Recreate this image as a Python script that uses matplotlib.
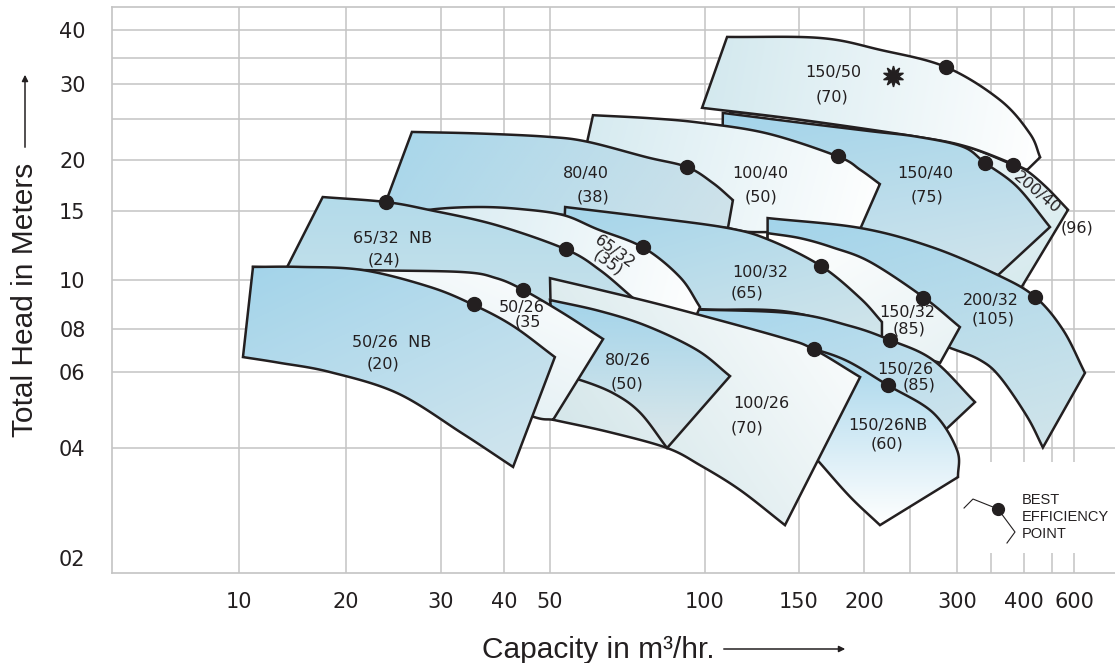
import numpy as np
import matplotlib
matplotlib.use("Agg")
import matplotlib.pyplot as plt
from matplotlib.patches import Polygon, Rectangle, FancyArrowPatch
from matplotlib.colors import to_rgb
from matplotlib.ticker import NullLocator

# ------------------------------------------------------------------ axes data
x_ticks = [10, 20, 30, 40, 50, 100, 150, 200, 300, 400, 600]
x_tick_labels = ["10", "20", "30", "40", "50", "100", "150", "200", "300", "400", "600"]
x_grid = [10, 20, 30, 40, 50, 100, 150, 200, 250, 300, 350, 400, 500, 600]
y_ticks = [2, 4, 6, 8, 10, 15, 20, 30, 40]
y_tick_labels = ["02", "04", "06", "08", "10", "15", "20", "30", "40"]
y_grid = [4, 6, 8, 10, 15, 20, 25, 30, 35, 40]

# ------------------------------------------------------------------ pump ranges
# top = largest impeller curve, bottom = smallest impeller curve (capacity m3/hr, head m)
q_top_200_40 = [111.4, 151, 257, 314, 383, 410, 480, 571]
h_top_200_40 = [26.0, 24.9, 22.7, 21.5, 19.45, 18.8, 17.1, 15.1]
q_bot_200_40 = [111.4, 151, 216, 292, 381]
h_bot_200_40 = [20.0, 15.9, 12.6, 10.6, 9.0]

q_top_150_50 = [110, 165, 216, 287, 363, 419, 455]
h_top_150_50 = [38.7, 38.5, 36.4, 33.2, 27.6, 23.1, 20.3]
q_bot_150_50 = [98.7, 151, 257, 314, 383, 410]
h_bot_150_50 = [26.5, 24.9, 22.7, 21.5, 19.55, 18.9]

q_top_150_40 = [108, 151, 206, 257, 308, 341, 389, 492]
h_top_150_40 = [25.8, 24.5, 23.4, 22.7, 21.5, 19.66, 17.2, 13.65]
q_bot_150_40 = [107.6, 131, 197, 273, 360]
h_bot_150_40 = [15.95, 14.05, 13.25, 11.9, 10.29]

q_top_100_40 = [60.6, 78.2, 97.8, 131, 178, 197, 216]
h_top_100_40 = [25.5, 25.1, 24.5, 23.1, 20.4, 18.9, 17.46]
q_bot_100_40 = [58.0, 78.2, 110.4, 131, 197]
h_bot_100_40 = [20.0, 15.5, 13.57, 13.25, 13.57]

q_top_80_40 = [26.5, 35.8, 49.3, 59.0, 77.1, 92.3, 103.5, 112.8]
h_top_80_40 = [23.3, 23.1, 22.7, 22.1, 20.3, 19.22, 17.56, 15.95]
q_bot_80_40 = [23.4, 28.6, 35.8, 53.5, 77.1, 110.4]
h_bot_80_40 = [15.08, 14.91, 14.91, 14.65, 14.23, 13.57]

q_top_200_32 = [131, 197, 273, 360, 437, 548, 648]
h_top_200_32 = [14.39, 13.57, 12.11, 10.29, 9.26, 7.95, 5.97]
q_bot_200_32 = [131, 151, 238, 292, 333, 363, 410, 465]
h_bot_200_32 = [12.6, 9.13, 7.95, 7.05, 6.5, 5.84, 4.73, 4.01]

q_top_150_32 = [131, 151, 174, 206, 263, 304]
h_top_150_32 = [13.17, 12.78, 12.11, 11.12, 9.26, 8.07]
q_bot_150_32 = [131, 151, 216, 281]
h_bot_150_32 = [9.13, 8.34, 7.18, 6.38]

q_top_100_32 = [53.5, 77.1, 110.4, 132.4, 165.3, 196.6, 218.2]
h_top_100_32 = [15.34, 14.48, 13.57, 12.63, 10.86, 9.21, 8.26]
q_bot_100_32 = [53.0, 74.8, 97.8, 144.3, 218.2]
h_bot_100_32 = [11.25, 9.13, 8.76, 8.64, 7.53]

q_top_65_32 = [25.2, 29.4, 35.8, 43.2, 53.0, 61.7, 75.8, 89.4, 97.8]
h_top_65_32 = [14.65, 15.17, 15.34, 15.17, 14.65, 13.49, 12.11, 10.17, 8.84]
q_bot_65_32 = [25.2, 35.8, 52.3, 68.4, 93.5]
h_bot_65_32 = [14.23, 12.63, 9.56, 8.34, 7.95]

q_top_65_32nb = [17.2, 23.7, 28.6, 38.6, 53.7, 62.5, 72.5]
h_top_65_32nb = [16.23, 15.78, 15.08, 13.81, 11.97, 10.6, 9.21]
q_bot_65_32nb = [13.3, 25.2, 39.2, 62.5]
h_bot_65_32nb = [10.29, 10.0, 9.56, 6.95]

q_top_150_26 = [89.4, 144.3, 188.1, 227, 273.3, 325.5]
h_top_150_26 = [8.76, 8.60, 8.11, 7.43, 6.50, 5.11]
q_bot_150_26 = [89.4, 121.4, 159.6, 188.1, 238, 284]
h_bot_150_26 = [8.26, 7.53, 6.50, 5.81, 5.16, 4.35]

q_top_150_26nb = [144.3, 159.6, 185.6, 224.6, 273.3, 300, 301.4]
h_top_150_26nb = [7.18, 7.0, 6.46, 5.59, 4.83, 3.95, 3.33]
q_bot_150_26nb = [138.2, 141.2, 150.7, 164.6, 188.1, 216.1]
h_bot_150_26nb = [6.5, 5.16, 4.17, 3.64, 2.94, 2.46]

q_top_100_26 = [50.0, 62.5, 85.5, 138.2, 159.6, 196.6]
h_top_100_26 = [10.11, 9.56, 8.84, 7.58, 7.0, 5.84]
q_bot_100_26 = [50.7, 65.4, 84.4, 97.8, 116.3, 141.2]
h_bot_100_26 = [4.65, 4.35, 4.0, 3.59, 3.07, 2.46]

q_top_80_26 = [50.0, 62.5, 77.1, 96.5, 111.4]
h_top_80_26 = [9.13, 8.68, 8.11, 6.95, 5.87]
q_bot_80_26 = [52.3, 57.2, 66.3, 74.8, 84.4]
h_bot_80_26 = [5.87, 5.75, 5.36, 4.83, 4.0]

q_top_50_26 = [10.95, 21.5, 33.0, 38.6, 43.9, 53.0, 63.4]
h_top_50_26 = [10.8, 10.6, 10.48, 10.11, 9.56, 8.6, 7.48]
q_bot_50_26 = [11.5, 14.8, 25.2, 35.8, 46.0, 50.7]
h_bot_50_26 = [7.95, 7.43, 6.08, 5.31, 4.73, 4.65]

q_top_50_26nb = [10.95, 14.8, 21.5, 28.6, 34.8, 41.8, 51.1]
h_top_50_26nb = [10.8, 10.8, 10.6, 9.69, 8.93, 8.11, 6.63]
q_bot_50_26nb = [10.26, 13.0, 18.0, 24.9, 33.0, 41.8]
h_bot_50_26nb = [6.63, 6.38, 6.0, 5.36, 4.33, 3.55]

# best efficiency points
bep_q = [23.7, 34.8, 43.9, 53.7, 75.8, 92.3, 178, 287, 341, 383, 165, 263, 437, 227, 160, 225]
bep_h = [15.78, 8.97, 9.56, 11.97, 12.11, 19.22, 20.4, 33.2, 19.66, 19.45, 10.86, 9.21, 9.26, 7.43, 7.0, 5.59]
star_q = [230]
star_h = [31.5]

# pump labels
label_text = ["150/50", "(70)", "150/40", "(75)", "100/40", "(50)", "200/40", "(96)",
              "100/32", "(65)", "150/32", "(85)", "200/32", "(105)", "150/26", "(85)",
              "150/26NB", "(60)", "100/26", "(70)", "80/26", "(50)", "50/26", "(35",
              "50/26  NB", "(20)", "65/32  NB", "(24)", "65/32", "(35)", "80/40", "(38)"]
label_q = [174.3, 173.7, 265, 267, 126.7, 127.3, 444, 613,
           126.7, 119.9, 246.4, 248.8, 350, 352.8, 244, 258.8,
           224.6, 223.7, 127.3, 119.9, 70.9, 70.6, 43.6, 44.9,
           24.3, 23.4, 24.4, 23.5, 66.9, 64.8, 58.7, 60.6]
label_h = [32.1, 28.0, 18.5, 16.23, 18.5, 16.23, 16.6, 13.57,
           10.48, 9.43, 8.64, 8.0, 9.09, 8.38, 6.12, 5.59,
           4.50, 4.09, 5.06, 4.46, 6.46, 5.63, 8.84, 8.26,
           7.29, 6.33, 12.78, 11.25, 11.76, 11.07, 18.5, 16.23]
label_rot = [0, 0, 0, 0, 0, 0, -40, 0,
             0, 0, 0, 0, 0, 0, 0, 0,
             0, 0, 0, 0, 0, 0, 0, 0,
             0, 0, 0, 0, -36, -36, 0, 0]

# drawing order: back to front
pumps = [
    ("200/40", q_top_200_40, h_top_200_40, q_bot_200_40, h_bot_200_40),
    ("150/50", q_top_150_50, h_top_150_50, q_bot_150_50, h_bot_150_50),
    ("150/40", q_top_150_40, h_top_150_40, q_bot_150_40, h_bot_150_40),
    ("100/40", q_top_100_40, h_top_100_40, q_bot_100_40, h_bot_100_40),
    ("80/40", q_top_80_40, h_top_80_40, q_bot_80_40, h_bot_80_40),
    ("200/32", q_top_200_32, h_top_200_32, q_bot_200_32, h_bot_200_32),
    ("150/32", q_top_150_32, h_top_150_32, q_bot_150_32, h_bot_150_32),
    ("100/32", q_top_100_32, h_top_100_32, q_bot_100_32, h_bot_100_32),
    ("150/26", q_top_150_26, h_top_150_26, q_bot_150_26, h_bot_150_26),
    ("65/32", q_top_65_32, h_top_65_32, q_bot_65_32, h_bot_65_32),
    ("65/32 NB", q_top_65_32nb, h_top_65_32nb, q_bot_65_32nb, h_bot_65_32nb),
    ("150/26NB", q_top_150_26nb, h_top_150_26nb, q_bot_150_26nb, h_bot_150_26nb),
    ("100/26", q_top_100_26, h_top_100_26, q_bot_100_26, h_bot_100_26),
    ("80/26", q_top_80_26, h_top_80_26, q_bot_80_26, h_bot_80_26),
    ("50/26", q_top_50_26, h_top_50_26, q_bot_50_26, h_bot_50_26),
    ("50/26 NB", q_top_50_26nb, h_top_50_26nb, q_bot_50_26nb, h_bot_50_26nb),
]

# ------------------------------------------------------------------ styles
LINE = "#231f20"
TXT = "#231f20"
GRID = "#c4c4c4"
fill_style = {
    "200/40": ("#ffffff", "#d2e8ec", -60),
    "150/50": ("#d2e8ee", "#ffffff", -10),
    "150/40": ("#a3d4ea", "#d2e5ec", -80),
    "100/40": ("#d5eaf0", "#ffffff", -15),
    "80/40": ("#a7d6ea", "#d0e3ea", -35),
    "200/32": ("#a3d4ea", "#d2e5ea", -75),
    "150/32": ("#ffffff", "#e8f2f4", -60),
    "100/32": ("#a5d5ea", "#d2e5eb", -75),
    "65/32": ("#d4e9f0", "#ffffff", -15),
    "65/32 NB": ("#b3dbeb", "#cde3ea", -90),
    "150/26": ("#a6d6ec", "#cfe4ec", -75),
    "150/26NB": ("#a3d4ea", "#ffffff", -90),
    "100/26": ("#cde2e6", "#ffffff", 35),
    "80/26": ("#a3d4ea", "#dde8ea", -90),
    "50/26": ("#ffffff", "#d4e7ed", -115),
    "50/26 NB": ("#a3d4ea", "#d3e6ee", -65),
}

# ------------------------------------------------------------------ printed (irregular) grid scale
X_KNOT_VAL = np.array([5, 10, 20, 30, 40, 50, 100, 150, 200, 250, 300, 350, 400, 500, 600, 800], float)
X_KNOT_POS = np.array([112, 239, 346, 441, 504, 550, 705, 799, 864, 910, 957, 991, 1024, 1052, 1074, 1115], float)
Y_KNOT_VAL = np.array([1.8, 2, 4, 6, 8, 10, 15, 20, 25, 30, 35, 40, 45], float)
Y_KNOT_POS = np.array([90, 105, 215, 291, 334, 383, 452, 503, 544, 579, 605, 633, 656], float)
LXV = np.log10(X_KNOT_VAL)
LYV = np.log10(Y_KNOT_VAL)


def fx(v):
    v = np.asarray(v, float)
    return np.interp(np.log10(np.clip(v, 1e-6, None)), LXV, X_KNOT_POS)


def ifx(p):
    return 10 ** np.interp(np.asarray(p, float), X_KNOT_POS, LXV)


def fy(v):
    v = np.asarray(v, float)
    return np.interp(np.log10(np.clip(v, 1e-6, None)), LYV, Y_KNOT_POS)


def ify(p):
    return 10 ** np.interp(np.asarray(p, float), Y_KNOT_POS, LYV)


def catmull(x, y, n=24):
    P = np.column_stack([x, y]).astype(float)
    P = np.vstack([2 * P[0] - P[1], P, 2 * P[-1] - P[-2]])
    t = np.linspace(0, 1, n, endpoint=False)[:, None]
    segs = []
    for i in range(1, len(P) - 2):
        p0, p1, p2, p3 = P[i - 1], P[i], P[i + 1], P[i + 2]
        segs.append(0.5 * (2 * p1 + (p2 - p0) * t + (2 * p0 - 5 * p1 + 4 * p2 - p3) * t ** 2
                           + (3 * p1 - p0 - 3 * p2 + p3) * t ** 3))
    segs.append(P[-2][None, :])
    out = np.vstack(segs)
    return out[:, 0], out[:, 1]


# ------------------------------------------------------------------ figure
W, H = 1115, 663
fig = plt.figure(figsize=(W / 100, H / 100), dpi=100)
ax = fig.add_axes([112 / W, 90 / H, 1003 / W, 566 / H])
ax.set_xscale("function", functions=(fx, ifx))
ax.set_yscale("function", functions=(fy, ify))
ax.set_xlim(5, 800)
ax.set_ylim(1.8, 45)
ax.set_autoscale_on(False)

for v in x_grid:
    ax.axvline(v, color=GRID, lw=1.1, zorder=0.5)
for v in y_grid:
    ax.axhline(v, color=GRID, lw=1.1, zorder=0.5)
for s in ["left", "bottom", "top"]:
    ax.spines[s].set_color(GRID)
    ax.spines[s].set_linewidth(1.2)
ax.spines["right"].set_visible(False)

ax.set_xticks(x_ticks)
ax.set_xticklabels(x_tick_labels)
ax.set_xticks([400, 600], minor=True)
ax.set_yticks(y_ticks)
ax.set_yticklabels(y_tick_labels)
ax.yaxis.set_minor_locator(NullLocator())
ax.tick_params(axis="x", which="major", length=0, pad=14, labelsize=15, labelcolor=TXT)
ax.tick_params(axis="x", which="minor", length=7, width=1.1, color=GRID, direction="out")
ax.tick_params(axis="y", which="major", length=0, pad=19, labelsize=15, labelcolor=TXT)
for lab in ax.get_xticklabels() + ax.get_yticklabels():
    lab.set_family("DejaVu Sans")

AXW, AXH = 1003.0, 566.0
for k, (name, qt, ht, qb, hb) in enumerate(pumps):
    tx, ty = catmull(fx(qt), fy(ht))
    bx, by = catmull(fx(qb), fy(hb))
    xs = np.concatenate([tx, bx[::-1]])
    ys = np.concatenate([ty, by[::-1]])
    verts = np.column_stack([ifx(xs), ify(ys)])
    z = 2 + k
    poly = Polygon(verts, closed=True, facecolor="none", edgecolor=LINE, lw=1.8,
                   joinstyle="miter", zorder=z + 0.5)
    ax.add_patch(poly)
    apts = ax.transAxes.inverted().transform(ax.transData.transform(verts))
    x0, y0 = apts.min(axis=0)
    x1, y1 = apts.max(axis=0)
    c0, c1, ang = fill_style[name]
    c0 = np.array(to_rgb(c0))
    c1 = np.array(to_rgb(c1))
    n = 160
    gx, gy = np.meshgrid(np.linspace(x0, x1, n), np.linspace(y0, y1, n))
    d = np.array([np.cos(np.radians(ang)), np.sin(np.radians(ang))])
    proj = gx * AXW * d[0] + gy * AXH * d[1]
    tt = (proj - proj.min()) / (proj.max() - proj.min())
    img = (1 - tt)[..., None] * c0 + tt[..., None] * c1
    im = ax.imshow(img, extent=(x0, x1, y0, y1), origin="lower", transform=ax.transAxes,
                   aspect="auto", interpolation="bilinear", zorder=z)
    im.set_clip_path(poly)

ax.plot(bep_q, bep_h, "o", ms=10, color=LINE, linestyle="none", zorder=60)
ax.plot(star_q, star_h, marker=(10, 1, 0), ms=15, color=LINE, linestyle="none", zorder=60)

for t, q, h, r in zip(label_text, label_q, label_h, label_rot):
    ax.text(q, h, t, rotation=r, rotation_mode="anchor", ha="center", va="center",
            fontsize=11.5, color=TXT, family="DejaVu Sans", zorder=100)

# legend box
ax.add_patch(Rectangle((0.8455, 0.0353), 0.1545, 0.1608, transform=ax.transAxes,
                       facecolor="white", edgecolor="none", zorder=1))
ax.plot([0.8495, 0.8584, 0.8833, 0.9003, 0.8923], [0.1148, 0.1307, 0.1131, 0.0724, 0.0530],
        transform=ax.transAxes, color=LINE, lw=0.8, zorder=61)
ax.plot([0.8833], [0.1131], "o", ms=8.5, color=LINE, transform=ax.transAxes, zorder=62)
for s, yy in zip(["BEST", "EFFICIENCY", "POINT"], [0.1290, 0.0989, 0.0689]):
    ax.text(0.9073, yy, s, transform=ax.transAxes, ha="left", va="center", fontsize=10.5,
            color=TXT, family=["Liberation Sans Narrow", "Liberation Sans"], zorder=62)

# axis titles with arrows
fig.text(33 / W, 363 / H, "Total Head in Meters", rotation=90, rotation_mode="anchor",
         ha="center", va="baseline", fontsize=21.5, color=TXT,
         family=["Liberation Sans", "DejaVu Sans"])
fig.text(598 / W, 5 / H, "Capacity in m\u00b3/hr.", ha="center", va="baseline",
         fontsize=21.5, color=TXT, family=["Liberation Sans", "DejaVu Sans"])
fig.add_artist(FancyArrowPatch((25 / W, 513 / H), (25 / W, 591 / H),
               transform=fig.transFigure, arrowstyle="-|>", mutation_scale=9,
               lw=1.1, color=TXT))
fig.add_artist(FancyArrowPatch((721 / W, 14 / H), (848 / W, 14 / H),
               transform=fig.transFigure, arrowstyle="-|>", mutation_scale=9,
               lw=1.1, color=TXT))

fig.savefig("out.png", dpi=100)
